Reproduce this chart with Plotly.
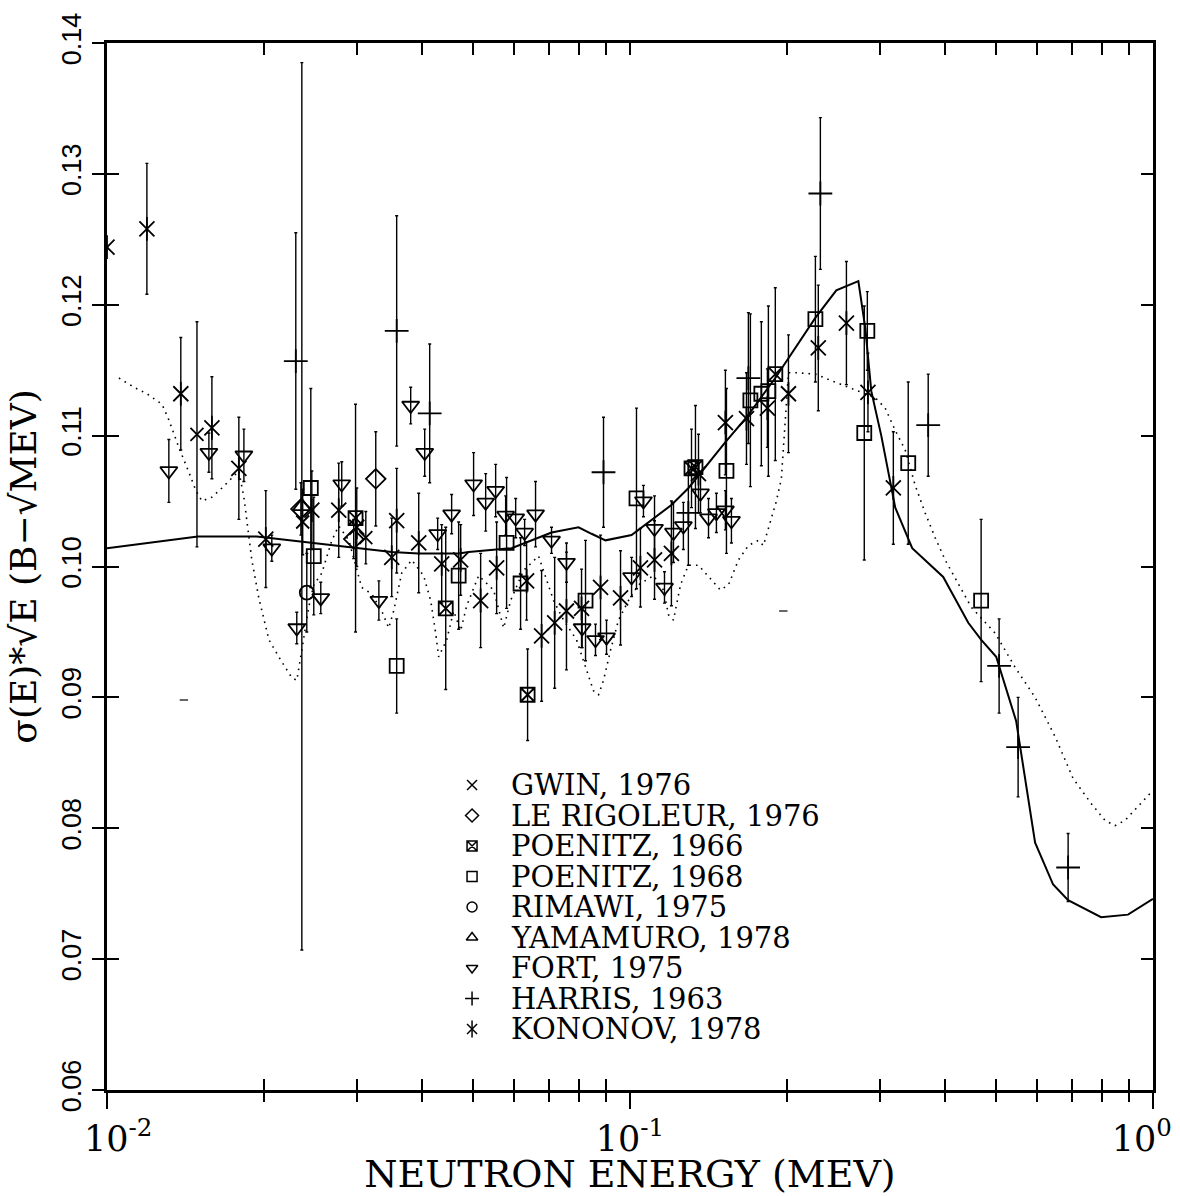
import plotly.graph_objects as go

# ---------------- data (energy in MeV, sigma*sqrt(E) in b*sqrt(MeV)) ----------------
solid_E = [0.0100, 0.01492, 0.01934, 0.02358, 0.02938, 0.03503, 0.03945, 0.04703, 0.04915,
           0.05937, 0.07079, 0.07973, 0.08442, 0.08979, 0.1007, 0.1200, 0.1294, 0.1522,
           0.1670, 0.1896, 0.2261, 0.2480, 0.2733, 0.2818, 0.2893, 0.3023, 0.3215, 0.3464,
           0.3971, 0.4434, 0.4695, 0.5014, 0.5474, 0.5695, 0.5951, 0.6442, 0.6881, 0.7957,
           0.8958, 1.0]
solid_Y = [0.1014, 0.1023, 0.1023, 0.1019, 0.1015, 0.1011, 0.1010, 0.1010, 0.1011,
           0.1014, 0.1026, 0.1030, 0.1025, 0.1020, 0.1024, 0.1047, 0.1060, 0.1095,
           0.1114, 0.1144, 0.1190, 0.1211, 0.1218, 0.1182, 0.1134, 0.1100, 0.1045, 0.1014,
           0.0992, 0.0957, 0.0944, 0.0931, 0.0882, 0.0837, 0.0789, 0.0757, 0.0745, 0.0732,
           0.0734, 0.0746]

dotted_E = [0.01054, 0.01126, 0.01192, 0.01274, 0.01313, 0.01372, 0.01434, 0.01479, 0.01519,
            0.01587, 0.01659, 0.01733, 0.01787, 0.01827, 0.01851, 0.01892, 0.01951, 0.01995,
            0.0204, 0.0213, 0.02256, 0.02307, 0.02358, 0.02431, 0.02485, 0.02575, 0.02691,
            0.02774, 0.0290, 0.03069, 0.03208, 0.03352, 0.03457, 0.03533, 0.0366, 0.03826,
            0.04031, 0.04158, 0.04251, 0.04307, 0.04462, 0.04601, 0.04745, 0.04873, 0.05136,
            0.05485, 0.05734, 0.05912, 0.06257, 0.06686, 0.07143, 0.07464, 0.07903, 0.08259,
            0.08516, 0.08707, 0.08899, 0.09178, 0.09506, 0.09933, 0.1038, 0.1109, 0.1159,
            0.1185, 0.1211, 0.1249, 0.1293, 0.1352, 0.1425, 0.1489, 0.1543, 0.1612, 0.1684,
            0.1760, 0.1799, 0.1855, 0.1905, 0.1947, 0.1982, 0.2009, 0.2099, 0.2262, 0.2426,
            0.2615, 0.2818, 0.2944, 0.3076, 0.3215, 0.3359, 0.3510, 0.3667, 0.3833, 0.4005,
            0.4240, 0.4491, 0.4992, 0.5449, 0.5951, 0.6499, 0.7035, 0.7614, 0.8097, 0.8459,
            0.8841, 0.9486, 1.0]
dotted_Y = [0.1144, 0.1137, 0.1132, 0.1124, 0.1112, 0.1091, 0.1072, 0.1058, 0.1050,
            0.1053, 0.1060, 0.1068, 0.1073, 0.1053, 0.1035, 0.1005, 0.0976, 0.0959,
            0.0944, 0.0931, 0.0915, 0.0913, 0.0936, 0.0969, 0.0986, 0.0995, 0.1020,
            0.1031, 0.1020, 0.0984, 0.0979, 0.0966, 0.0953, 0.0966, 0.0995, 0.1005,
            0.0993, 0.0974, 0.0949, 0.0931, 0.0944, 0.0966, 0.0951, 0.0970, 0.0993,
            0.0982, 0.0953, 0.0974, 0.0997, 0.1008, 0.0974, 0.0959, 0.0944, 0.0921,
            0.0905, 0.0902, 0.0913, 0.0936, 0.0959, 0.0974, 0.0986, 0.0993, 0.0982,
            0.0963, 0.0959, 0.0986, 0.1001, 0.1001, 0.0991, 0.0982, 0.0986, 0.1005, 0.1016,
            0.1020, 0.1016, 0.1035, 0.1050, 0.1067, 0.1112, 0.1148, 0.1148, 0.1147, 0.1142,
            0.1137, 0.1132, 0.1129, 0.1121, 0.1104, 0.1089, 0.1062, 0.1041, 0.1022, 0.1005,
            0.0987, 0.0969, 0.0949, 0.0923, 0.0900, 0.0870, 0.0838, 0.0819, 0.0806, 0.0802,
            0.0806, 0.0819, 0.0829]
stray_E = [0.01403, 0.1964]
stray_Y = [0.0898, 0.0966]

gwin_E = [0.01486, 0.02367, 0.03125]
gwin_Y = [0.1101, 0.1034, 0.1022]
gwin_err = [0.0086, 0.0025, 0.0020]

lerig_E = [0.02348, 0.02963, 0.03265]
lerig_Y = [0.1044, 0.1021, 0.1067]
lerig_err = [0.0020, 0.0015, 0.0036]

poen66_E = [0.02987, 0.04443, 0.06371, 0.1311, 0.1334, 0.1896]
poen66_Y = [0.1037, 0.0968, 0.0902, 0.1075, 0.1076, 0.1147]
poen66_err = [0.0087, 0.0062, 0.0035, 0.0030, 0.0047, 0.0066]

poen68_E = [0.02453, 0.02485, 0.0358, 0.04703, 0.05808, 0.06177, 0.08222, 0.1029, 0.1529,
            0.1699, 0.1783, 0.1839, 0.2262, 0.2805, 0.2843, 0.3404, 0.4692]
poen68_Y = [0.1060, 0.1008, 0.0924, 0.0993, 0.1018, 0.0987, 0.0974, 0.1052, 0.1073,
            0.1127, 0.1132, 0.1134, 0.1189, 0.1102, 0.1180, 0.1079, 0.0974]
poen68_err = [0.0076, 0.0045, 0.0036, 0.0041, 0.0050, 0.0035, 0.0046, 0.0069, 0.0063,
              0.0066, 0.0055, 0.0065, 0.0048, 0.0097, 0.0030, 0.0062, 0.0062]

rimawi_E = [0.0241]
rimawi_Y = [0.0980]
rimawi_err = [0.0030]

yama_E = [0.02358]
yama_Y = [0.1046]
yama_err = [0.0339]

fort_E = [0.01313, 0.01566, 0.01827, 0.02066, 0.02306, 0.02563, 0.02811, 0.0331, 0.03808,
          0.0405, 0.04288, 0.0456, 0.05023, 0.05297, 0.05535, 0.05784, 0.06045, 0.06288,
          0.06598, 0.07079, 0.07561, 0.0810, 0.08591, 0.09018, 0.1007, 0.1061, 0.1114,
          0.1164, 0.1211, 0.1265, 0.1364, 0.1413, 0.1463, 0.1522, 0.1563]
fort_Y = [0.1073, 0.1087, 0.1085, 0.1014, 0.0953, 0.0976, 0.1063, 0.0974, 0.1123,
          0.1087, 0.1025, 0.1040, 0.1063, 0.1049, 0.1058, 0.1039, 0.1037, 0.1026,
          0.1040, 0.1020, 0.1003, 0.0953, 0.0944, 0.0946, 0.0992, 0.1050, 0.1029,
          0.0984, 0.1026, 0.1031, 0.1056, 0.1037, 0.1041, 0.1043, 0.1035]
fort_err = [0.0024, 0.0015, 0.0020, 0.0010, 0.0012, 0.0012, 0.0017, 0.0015, 0.0014,
            0.0018, 0.0012, 0.0015, 0.0024, 0.0022, 0.0020, 0.0015, 0.0015, 0.0010,
            0.0025, 0.0010, 0.0015, 0.0015, 0.0012, 0.0013, 0.0015, 0.0012, 0.0025,
            0.0012, 0.0023, 0.0018, 0.0015, 0.0015, 0.0015, 0.0015, 0.0017]

harris_E = [0.02296, 0.0358, 0.0414, 0.08899, 0.1293, 0.1684, 0.2312, 0.3717, 0.5079,
            0.5522, 0.6882]
harris_Y = [0.1157, 0.1180, 0.1117, 0.1072, 0.1041, 0.1144, 0.1285, 0.1108, 0.0924,
            0.0862, 0.0770]
harris_err = [0.0098, 0.0088, 0.0053, 0.0042, 0.0040, 0.0050, 0.0058, 0.0039, 0.0036,
              0.0038, 0.0026]

kono_E = [0.0100, 0.01192, 0.01384, 0.01587, 0.01787, 0.02012, 0.02464, 0.02774, 0.03003,
          0.03503, 0.0358, 0.03945, 0.04365, 0.04745, 0.05181, 0.05559, 0.06343, 0.06776,
          0.07177, 0.0756, 0.08079, 0.08784, 0.09592, 0.1047, 0.1114, 0.1200, 0.1352,
          0.1522, 0.1670, 0.1831, 0.2009, 0.2291, 0.2593, 0.2851, 0.3188]
kono_Y = [0.1244, 0.1258, 0.1132, 0.1106, 0.1075, 0.1021, 0.1043, 0.1043, 0.1030,
          0.1007, 0.1035, 0.1018, 0.1002, 0.1005, 0.0974, 0.0999, 0.0989, 0.0947,
          0.0957, 0.0966, 0.0968, 0.0984, 0.0976, 0.0999, 0.1005, 0.1010, 0.1071,
          0.1110, 0.1113, 0.1121, 0.1132, 0.1167, 0.1186, 0.1133, 0.1060]
kono_err = [0.0000, 0.0050, 0.0043, 0.0039, 0.0039, 0.0037, 0.0030, 0.0036, 0.0030,
            0.0030, 0.0040, 0.0038, 0.0030, 0.0027, 0.0036, 0.0035, 0.0030, 0.0050,
            0.0050, 0.0045, 0.0030, 0.0040, 0.0036, 0.0030, 0.0030, 0.0040, 0.0030,
            0.0040, 0.0035, 0.0030, 0.0045, 0.0048, 0.0047, 0.0030, 0.0043]

legend_labels = ["GWIN, 1976", "LE RIGOLEUR, 1976", "POENITZ, 1966", "POENITZ, 1968",
                 "RIMAWI, 1975", "YAMAMURO, 1978", "FORT, 1975", "HARRIS, 1963",
                 "KONONOV, 1978"]

NB = "\u00a0"
x_major = [0.01, 0.1, 1.0]
x_major_text = [NB * 2 + "10<sup>-2</sup>", "10<sup>-1</sup>", "10<sup>0</sup>" + NB * 2]
x_minor = [m * d for d in (0.01, 0.1) for m in range(2, 10)]
y_ticks = [0.06, 0.07, 0.08, 0.09, 0.10, 0.11, 0.12, 0.13, 0.14]
y_ticktext = ["0.06", "0.07", "0.08", "0.09", "0.10", "0.11", "0.12", "0.13", "0.14"]

# ---------------- figure ----------------
BLACK = "black"
SERIF = "DejaVu Serif"
fig = go.Figure()

fig.add_trace(go.Scatter(x=dotted_E, y=dotted_Y, mode="lines",
                         line=dict(color=BLACK, width=1.6, dash="1.6px,5px"),
                         showlegend=False, hoverinfo="skip"))
fig.add_trace(go.Scatter(x=stray_E, y=stray_Y, mode="markers",
                         marker=dict(symbol="line-ew", size=6, line=dict(width=1.2, color=BLACK)),
                         showlegend=False, hoverinfo="skip"))
fig.add_trace(go.Scatter(x=solid_E, y=solid_Y, mode="lines",
                         line=dict(color=BLACK, width=2),
                         showlegend=False, hoverinfo="skip"))

series = [
    (gwin_E, gwin_Y, gwin_err, ["x-thin-open"], 13),
    (lerig_E, lerig_Y, lerig_err, ["diamond-open"], 15),
    (poen66_E, poen66_Y, poen66_err, ["square-x-open"], 14),
    (poen68_E, poen68_Y, poen68_err, ["square-open"], 14),
    (rimawi_E, rimawi_Y, rimawi_err, ["circle-open"], 14),
    (yama_E, yama_Y, yama_err, ["triangle-up-open"], 15),
    (fort_E, fort_Y, fort_err, ["triangle-down-open"], 15),
    (harris_E, harris_Y, harris_err, ["cross-thin-open"], 17),
    (kono_E, kono_Y, kono_err, ["x-thin-open", "line-ns-open"], 15),
]

for (ex, ey, err, syms, sz), lab in zip(series, legend_labels):
    for k, sym in enumerate(syms):
        fig.add_trace(go.Scatter(
            x=ex, y=ey, mode="markers", name=lab,
            marker=dict(symbol=sym, size=sz if k == 0 else sz + 2, color=BLACK,
                        line=dict(width=1.8, color=BLACK)),
            error_y=dict(type="data", array=err, visible=(k == 0), color=BLACK,
                         thickness=1.4, width=1.5),
            showlegend=False, hoverinfo="skip"))

# ---- hand-made legend (markers on a fixed 0..1 overlay axis, text as annotations) ----
leg_x_mark = 0.349
leg_x_text = 0.384
leg_top = 0.2913
leg_step = 0.02913
for i, ((ex, ey, err, syms, sz), lab) in enumerate(zip(series, legend_labels)):
    yy = leg_top - i * leg_step
    for k, sym in enumerate(syms):
        fig.add_trace(go.Scatter(
            x=[leg_x_mark], y=[yy], xaxis="x6", yaxis="y6", mode="markers",
            marker=dict(symbol=sym, size=(10 if k == 0 else 12), color=BLACK,
                        line=dict(width=1.5, color=BLACK)),
            showlegend=False, hoverinfo="skip"))
    fig.add_annotation(x=leg_x_text, y=yy, xref="paper", yref="paper", text=lab,
                       showarrow=False, xanchor="left", yanchor="middle",
                       font=dict(family=SERIF, size=29, color=BLACK))

# dummy traces so every overlay axis gets drawn
for xa, ya in (("x2", "y"), ("x3", "y"), ("x4", "y"), ("x", "y2"), ("x", "y3")):
    fig.add_trace(go.Scatter(x=[0.05], y=[0.1], xaxis=xa, yaxis=ya, mode="markers",
                             marker=dict(opacity=0), showlegend=False, hoverinfo="skip"))

xr = [-2, 0]
yr = [0.06, 0.14]
common_x = dict(type="log", range=xr, showgrid=False, zeroline=False, fixedrange=True)
common_y = dict(range=yr, showgrid=False, zeroline=False, fixedrange=True)

fig.update_layout(
    width=1180, height=1196,
    margin=dict(l=107, r=27, t=43, b=106, autoexpand=False),
    paper_bgcolor="white", plot_bgcolor="white",
    showlegend=False,
    xaxis=dict(**common_x, tickvals=x_major, ticktext=x_major_text, ticks="outside",
               ticklen=16, tickwidth=2, tickcolor=BLACK, showline=True, linewidth=3,
               linecolor=BLACK, ticklabeloverflow="allow",
               tickfont=dict(family=SERIF, size=35, color=BLACK),
               title=dict(text="NEUTRON ENERGY (MEV)", standoff=2,
                          font=dict(family=SERIF, size=38, color=BLACK))),
    xaxis2=dict(**common_x, overlaying="x", side="bottom", anchor="y", tickvals=x_minor,
                ticks="outside", ticklen=11, tickwidth=2, tickcolor=BLACK,
                showticklabels=False, showline=False),
    xaxis3=dict(**common_x, overlaying="x", side="bottom", anchor="y", tickvals=x_minor,
                ticks="inside", ticklen=11, tickwidth=2, tickcolor=BLACK,
                showticklabels=False, showline=False),
    xaxis4=dict(**common_x, overlaying="x", side="top", anchor="y",
                tickvals=x_minor + x_major, ticks="inside", ticklen=12, tickwidth=2,
                tickcolor=BLACK, showticklabels=False, showline=True, linewidth=3,
                linecolor=BLACK),
    yaxis=dict(**common_y, tickvals=y_ticks, ticktext=y_ticktext, ticks="outside",
               ticklen=12, tickwidth=2, tickcolor=BLACK, showline=True, linewidth=3,
               linecolor=BLACK, tickangle=-90,
               tickfont=dict(family="Liberation Sans", size=27, color=BLACK),
               title=dict(text="σ(E)*√E (B−√MEV)", standoff=10,
                          font=dict(family=SERIF, size=36, color=BLACK))),
    yaxis2=dict(**common_y, overlaying="y", side="left", anchor="x", tickvals=y_ticks,
                ticks="inside", ticklen=12, tickwidth=2, tickcolor=BLACK,
                showticklabels=False, showline=False),
    yaxis3=dict(**common_y, overlaying="y", side="right", anchor="x", tickvals=y_ticks,
                ticks="inside", ticklen=12, tickwidth=2, tickcolor=BLACK,
                showticklabels=False, showline=True, linewidth=3, linecolor=BLACK),
    xaxis6=dict(range=[0, 1], overlaying="x", visible=False, fixedrange=True, anchor="y6"),
    yaxis6=dict(range=[0, 1], overlaying="y", visible=False, fixedrange=True, anchor="x6"),
)

fig.write_html("out.html")
